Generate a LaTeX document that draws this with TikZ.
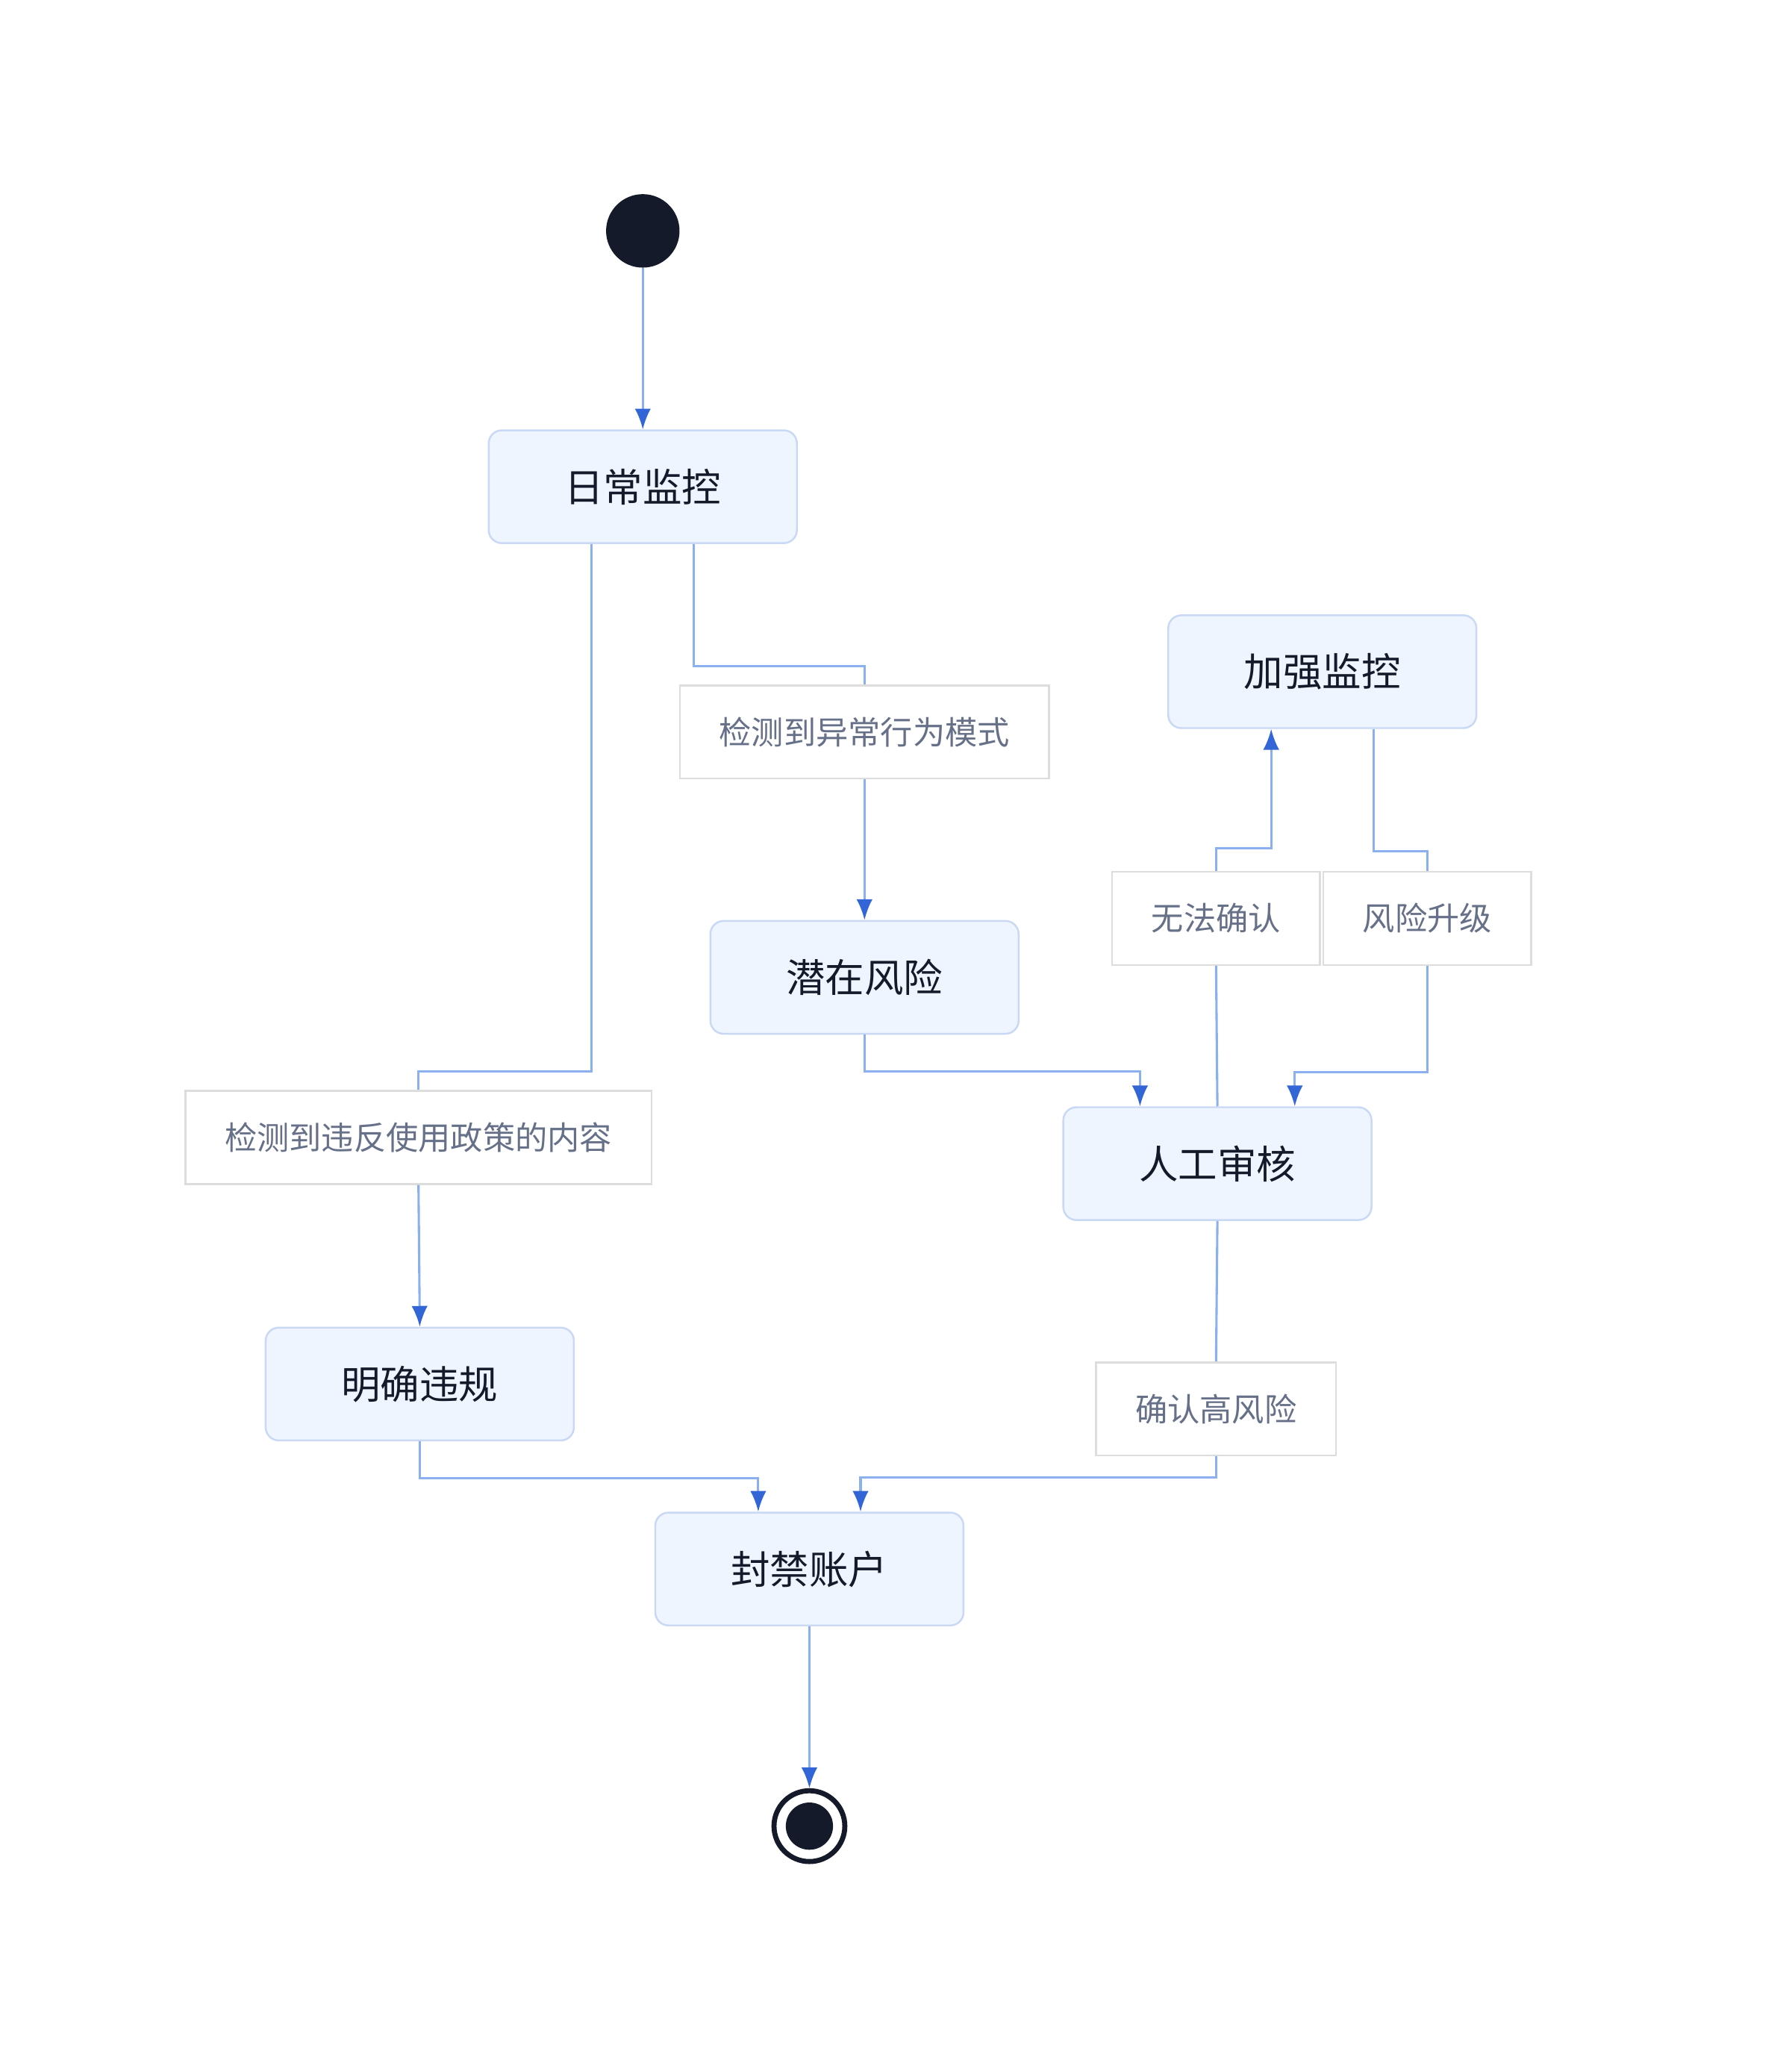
\documentclass[tikz,border=0pt]{standalone}
\usepackage{fontspec}
\setmainfont{Noto Sans CJK SC}
\usetikzlibrary{arrows.meta,positioning}
\definecolor{stfill}{HTML}{EFF5FE}
\definecolor{stline}{HTML}{C8D8F5}
\definecolor{flowc}{HTML}{8AB0F0}
\definecolor{tipc}{HTML}{3266D6}
\definecolor{ink}{HTML}{141A2A}
\definecolor{lbltext}{HTML}{667088}
\definecolor{lblline}{HTML}{DDDDDD}
\tikzset{
  state/.style={draw=stline,fill=stfill,rounded corners=0.2cm,line width=0.8pt,
    minimum width=4.7cm,minimum height=1.72cm,text=ink,font=\fontsize{17}{20}\selectfont},
  lbl/.style={draw=lblline,fill=white,line width=0.8pt,minimum height=1.42cm,
    inner xsep=0.6cm,text=lbltext,font=\fontsize{14}{17}\selectfont},
  flow/.style={draw=flowc,line width=1pt},
  arr/.style={flow,-{Latex[length=9pt,width=7pt,color=tipc]}}
}
\begin{document}
\begin{tikzpicture}[x=0.02cm,y=-0.02cm]
  \useasboundingbox (0,0) rectangle (1366,1568);
  \node[circle,fill=ink,minimum size=1.12cm,inner sep=0] (start) at (490,176) {};
  \node[state] (daily)  at (490,371)  {日常监控};
  \node[lbl]   (l1)     at (659,558)  {检测到异常行为模式};
  \node[state] (risk)   at (659,745)  {潜在风险};
  \node[state] (enh)    at (1008,512) {加强监控};
  \node[lbl]   (l3)     at (927,700)  {无法确认};
  \node[lbl]   (l4)     at (1088,700) {风险升级};
  \node[state] (review) at (928,887)  {人工审核};
  \node[lbl]   (l2)     at (319,867)  {检测到违反使用政策的内容};
  \node[state] (viol)   at (320,1055) {明确违规};
  \node[lbl]   (l5)     at (927,1074) {确认高风险};
  \node[state] (ban)    at (617,1196) {封禁账户};
  \node[circle,draw=ink,line width=2.2pt,minimum size=1.08cm,inner sep=0] (end) at (617,1392) {};
  \node[circle,fill=ink,minimum size=0.72cm,inner sep=0] at (end) {};

  \draw[arr] (start) -- (daily);
  \draw[flow] ([xshift=0.78cm]daily.south) -- ++(0,93) -| (l1.north);
  \draw[arr] (l1.south) -- (risk.north);
  \draw[flow] ([xshift=-0.78cm]daily.south) -- ++(0,402) -| (l2.north);
  \draw[arr] (l2.south) -- (viol.north);
  \draw[arr] (risk.south) -- ++(0,28) -| ([xshift=-1.18cm]review.north);
  \draw[flow] (review.north) -- (l3.south);
  \draw[arr] (l3.north) -- ++(0,-17) -| ([xshift=-0.78cm]enh.south);
  \draw[flow] ([xshift=0.78cm]enh.south) -- ++(0,93) -| (l4.north);
  \draw[arr] (l4.south) -- ++(0,81) -| ([xshift=1.18cm]review.north);
  \draw[flow] (review.south) -- (l5.north);
  \draw[arr] (l5.south) -- ++(0,16) -| ([xshift=0.78cm]ban.north);
  \draw[arr] (viol.south) -- ++(0,28) -| ([xshift=-0.78cm]ban.north);
  \draw[arr] (ban.south) -- (end.north);
\end{tikzpicture}
\end{document}
